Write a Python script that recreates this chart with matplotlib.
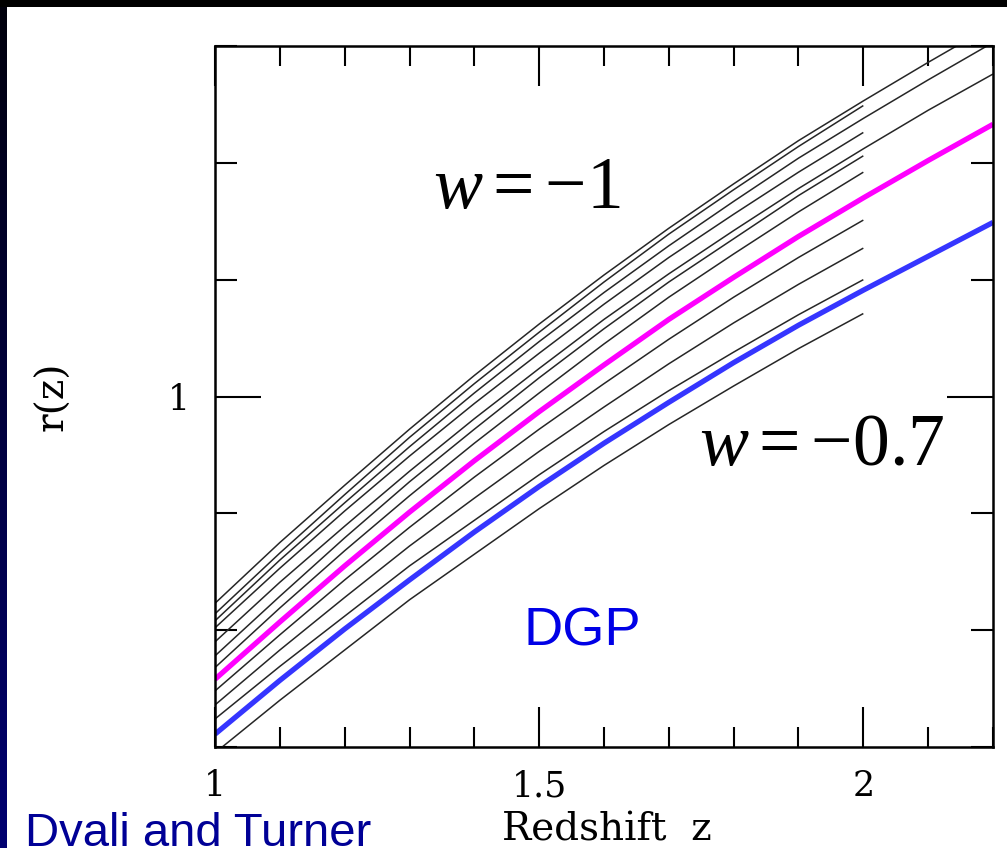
import numpy as np
import matplotlib
matplotlib.use("Agg")
import matplotlib.pyplot as plt
from matplotlib.ticker import MultipleLocator
from matplotlib.patches import Rectangle

plt.rcParams['mathtext.fontset'] = 'custom'
plt.rcParams['mathtext.rm'] = 'Liberation Serif'
plt.rcParams['mathtext.it'] = 'Liberation Serif:italic'

# redshift nodes, step 0.1 (most curves stop at z = 2)
z_nodes = [1.0, 1.1, 1.2, 1.3, 1.4, 1.5, 1.6, 1.7, 1.8, 1.9, 2.0, 2.1, 2.2]

# thin black curves (w between -1 and -0.7), top to bottom
r_black = [
	[0.823, 0.875, 0.924, 0.972, 1.018, 1.062, 1.104, 1.144, 1.182, 1.219, 1.253, 1.286, 1.318],
	[0.814, 0.866, 0.916, 0.965, 1.011, 1.055, 1.098, 1.139, 1.177, 1.214, 1.249],
	[0.808, 0.860, 0.909, 0.957, 1.003, 1.047, 1.089, 1.129, 1.167, 1.204, 1.238, 1.271, 1.303],
	[0.802, 0.853, 0.902, 0.949, 0.994, 1.037, 1.079, 1.119, 1.156, 1.192, 1.226],
	[0.790, 0.841, 0.889, 0.936, 0.981, 1.024, 1.066, 1.105, 1.142, 1.178, 1.212, 1.245, 1.276],
	[0.778, 0.829, 0.879, 0.927, 0.972, 1.016, 1.058, 1.098, 1.135, 1.172, 1.206],
	[0.768, 0.819, 0.868, 0.915, 0.960, 1.003, 1.045, 1.085, 1.122, 1.158, 1.192],
	[0.748, 0.796, 0.843, 0.888, 0.931, 0.972, 1.011, 1.049, 1.085, 1.119, 1.151],
	[0.736, 0.783, 0.828, 0.872, 0.913, 0.953, 0.991, 1.028, 1.063, 1.096, 1.127],
	[0.724, 0.769, 0.812, 0.855, 0.894, 0.933, 0.970, 1.005, 1.038, 1.070, 1.100],
	[0.695, 0.740, 0.783, 0.826, 0.865, 0.904, 0.941, 0.976, 1.009, 1.041, 1.071],
]

r_magenta = [0.758, 0.807, 0.855, 0.901, 0.945, 0.987, 1.027, 1.066, 1.102, 1.137, 1.170, 1.202, 1.233]
r_dgp = [0.711, 0.757, 0.801, 0.843, 0.884, 0.923, 0.960, 0.995, 1.029, 1.061, 1.091, 1.120, 1.149]

x_ticks = [1.0, 1.5, 2.0]
x_ticklabels = ['1', '1.5', '2']
y_ticks = [1.0]
y_ticklabels = ['1']


fig = plt.figure(figsize=(10.07, 8.48), dpi=100)
fig.patch.set_facecolor('white')

# slide frame: black strip on top, navy strip on the left
fig.add_artist(Rectangle((0, 1 - 7 / 848), 1, 7 / 848, transform=fig.transFigure,
	facecolor='black', edgecolor='none'))
band = fig.add_axes([0, 0, 7 / 1007, 1])
band.imshow(np.linspace(0, 1, 100).reshape(-1, 1), aspect='auto',
	cmap=matplotlib.colors.LinearSegmentedColormap.from_list('nv', ['#00000c', '#000070']))
band.set_axis_off()

ax = fig.add_axes([215 / 1007, 1 - 747 / 848, 778 / 1007, 701 / 848])

for r in r_black:
	ax.plot(z_nodes[:len(r)], r, color='#262626', lw=1.1,
		solid_capstyle='butt', solid_joinstyle='round')

ax.plot(z_nodes, r_magenta, color='#ff00ff', lw=3.8, solid_capstyle='butt', solid_joinstyle='round')
ax.plot(z_nodes, r_dgp, color='#3535ff', lw=3.8, solid_capstyle='butt', solid_joinstyle='round')

ax.set_xlim(1.0, 2.2)
ax.set_ylim(0.7, 1.3)

ax.set_xticks(x_ticks, labels=x_ticklabels)
ax.set_yticks(y_ticks, labels=y_ticklabels)
ax.xaxis.set_minor_locator(MultipleLocator(0.1))
ax.yaxis.set_minor_locator(MultipleLocator(0.1))

ax.tick_params(which='both', direction='in', top=True, right=True, width=1.5, color='black')
ax.tick_params(axis='x', which='major', length=29, pad=16)
ax.tick_params(axis='x', which='minor', length=14.5)
ax.tick_params(axis='y', which='major', length=33, pad=18)
ax.tick_params(axis='y', which='minor', length=16)

for lab in ax.get_xticklabels() + ax.get_yticklabels():
	lab.set_fontfamily('DejaVu Serif')
	lab.set_fontsize(25)

for s in ax.spines.values():
	s.set_linewidth(1.8)

ax.set_xlabel('Redshift  z', family='DejaVu Serif', fontsize=28)
ax.xaxis.set_label_coords(0.503, -0.092)
ax.set_ylabel('r(z)', family='DejaVu Serif', fontsize=28)
ax.yaxis.set_label_coords(-0.185, 0.5)

ax.text(1.4815, 1.161, r'$w = -1$', fontsize=53, ha='center', va='baseline')
ax.text(1.936, 0.941, r'$w = -0.7$', fontsize=53, ha='center', va='baseline')
ax.text(1.566, 0.787, 'DGP', color='#0000e6', fontsize=39, family='Liberation Sans',
	ha='center', va='baseline')

fig.text(25 / 1007, 2 / 848, 'Dvali and Turner', color='#000096', fontsize=34,
	family='Liberation Sans', ha='left', va='baseline')

fig.savefig('out.png', dpi=100)
